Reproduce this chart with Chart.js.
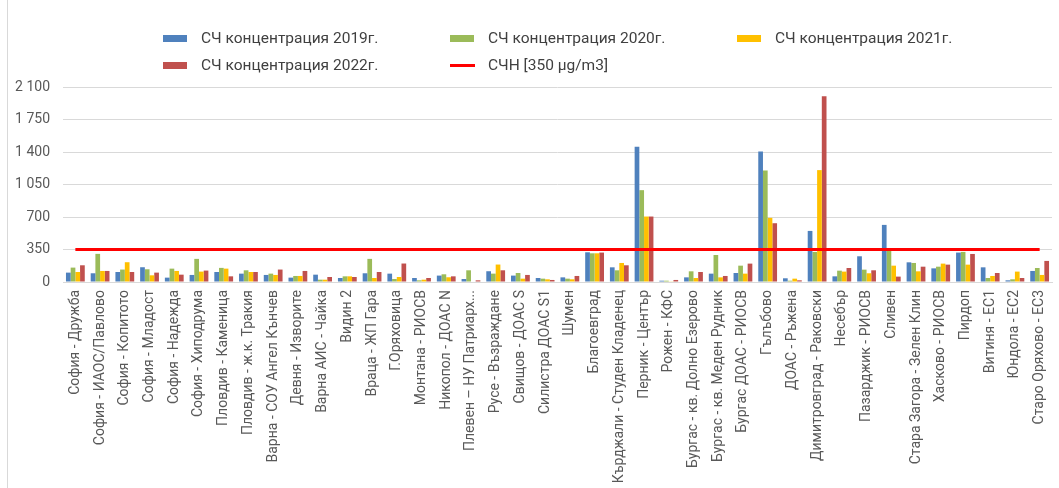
<!DOCTYPE html>
<html>
<head>
<meta charset="utf-8">
<script src="https://cdn.jsdelivr.net/npm/chart.js@4"></script>
<style>
  html, body { margin:0; padding:0; background:#fff; }
  #wrap { position:relative; width:1059px; height:488px; overflow:hidden; }
  #frame { position:absolute; left:7px; top:0; width:1px; height:488px; background:#d9d9d9; }
  canvas { position:absolute; left:0; top:0; }
  .lg { position:absolute; font-family:Roboto, "Open Sans", sans-serif; font-size:15.5px; color:#404040; white-space:nowrap; line-height:20px; }
  .sw { position:absolute; }
</style>
</head>
<body>
<div id="wrap">
  <canvas id="c" width="1059" height="488"></canvas>
  <div id="frame"></div>
  <div id="legend"></div>
</div>
<script>
const categories = [
  "София - Дружба", "София - ИАОС/Павлово", "София - Копитото", "София - Младост", "София - Надежда",
  "София - Хиподрума", "Пловдив - Каменица", "Пловдив - ж.к. Тракия", "Варна - СОУ Ангел Кънчев", "Девня - Изворите",
  "Варна АИС - Чайка", "Видин 2", "Враца - ЖП Гара", "Г.Оряховица", "Монтана - РИОСВ",
  "Никопол - ДОАС N", "Плевен – НУ Патриарх...", "Русе - Възраждане", "Свищов - ДОАС S", "Силистра ДОАС S1",
  "Шумен", "Благоевград", "Кърджали - Студен Кладенец", "Перник - Център", "Рожен - КФС",
  "Бургас - кв. Долно Езерово", "Бургас - кв. Меден Рудник", "Бургас ДОАС - РИОСВ", "Гълъбово", "ДОАС - Ръжена",
  "Димитровград - Раковски", "Несебър", "Пазарджик - РИОСВ", "Сливен", "Стара Загора - Зелен Клин",
  "Хасково - РИОСВ", "Пирдоп", "Витиня - ЕС1", "Юндола - ЕС2", "Старо Оряхово - ЕС3"
];
const conc2019 = [101, 94, 108, 159, 47, 76, 108, 90, 76, 47, 79, 43, 94, 90, 43, 69, 32, 116, 69, 43, 50, 320, 158, 1457, 14, 50, 90, 97, 1406, 40, 550, 61, 277, 615, 212, 147, 317, 158, 18, 119];
const conc2020 = [155, 303, 134, 137, 144, 249, 152, 126, 90, 65, 25, 61, 249, 32, 18, 83, 126, 90, 97, 36, 36, 309, 126, 989, 14, 115, 291, 176, 1201, 14, 324, 122, 133, 338, 205, 165, 324, 43, 29, 151];
const conc2021 = [108, 119, 213, 72, 119, 112, 144, 108, 76, 65, 25, 61, 43, 54, 25, 51, 0, 188, 36, 29, 29, 309, 205, 705, 7, 43, 50, 90, 691, 36, 1205, 112, 94, 176, 115, 198, 187, 65, 112, 76];
const conc2022 = [180, 119, 108, 101, 79, 123, 61, 108, 134, 119, 54, 54, 108, 199, 43, 61, 18, 126, 76, 22, 65, 317, 180, 705, 22, 108, 65, 198, 633, 18, 2000, 151, 126, 58, 165, 187, 302, 97, 43, 227];
const limitLine = [350, 350, 350, 350, 350, 350, 350, 350, 350, 350, 350, 350, 350, 350, 350, 350, 350, 350, 350, 350,
                   350, 350, 350, 350, 350, 350, 350, 350, 350, 350, 350, 350, 350, 350, 350, 350, 350, 350, 350, 350];
const yTicks = [0, 350, 700, 1050, 1400, 1750, 2100];
const seriesNames = ["СЧ концентрация 2019г.", "СЧ концентрация 2020г.", "СЧ концентрация 2021г.", "СЧ концентрация 2022г.", "СЧН [350 µg/m3]"];
const colors = ["#4F81BD", "#9BBB59", "#FFC000", "#C0504D", "#FF0000"];

const fmt = v => v >= 1000 ? Math.floor(v/1000) + " " + String(v % 1000).padStart(3, "0") : String(v);

const barDs = (i, data) => ({
  type: "bar", label: seriesNames[i], data, backgroundColor: colors[i], borderWidth: 0,
  order: 1, categoryPercentage: 0.76, barPercentage: 1.0
});

const font = { family: "Roboto, 'Open Sans', sans-serif", size: 14 };

const chart = new Chart(document.getElementById("c"), {
  type: "bar",
  data: {
    labels: categories,
    datasets: [
      barDs(0, conc2019), barDs(1, conc2020), barDs(2, conc2021), barDs(3, conc2022),
      { type: "line", label: seriesNames[4], data: limitLine, borderColor: colors[4], borderWidth: 3,
        pointRadius: 0, fill: false, order: 0 }
    ]
  },
  options: {
    responsive: false, animation: false,
    layout: { padding: { left: 8, right: 7, top: 87, bottom: 0 } },
    plugins: { legend: { display: false }, tooltip: { enabled: false } },
    scales: {
      x: {
        grid: { display: false, drawTicks: false },
        border: { display: true, color: "#d9d9d9", width: 1 },
        ticks: { autoSkip: false, minRotation: 90, maxRotation: 90, padding: 8, color: "#595959", font },
        afterFit(s) { s.height = 206; s.paddingLeft = 0; s.paddingRight = 0; }
      },
      y: {
        min: 0, max: 2100,
        afterBuildTicks(s) { s.ticks = yTicks.map(v => ({ value: v })); },
        grid: { color: "#d9d9d9", lineWidth: 1, drawTicks: false },
        border: { display: false },
        ticks: { padding: 13, color: "#595959", font, callback: v => fmt(v) },
        afterFit(s) { s.width = 55; s.paddingTop = 0; s.paddingBottom = 0; }
      }
    }
  }
});

// HTML legend built from the chart's datasets
const legendPos = [[163, 28], [450, 28], [737, 28], [163, 55], [450, 55]];
const lg = document.getElementById("legend");
chart.data.datasets.forEach((ds, i) => {
  const [x, y] = legendPos[i];
  const sw = document.createElement("div");
  sw.className = "sw";
  if (ds.type === "line") {
    sw.style.cssText = `left:${x}px;top:${y + 9}px;width:25px;height:3px;background:${ds.borderColor};`;
  } else {
    sw.style.cssText = `left:${x}px;top:${y + 7}px;width:24px;height:7px;background:${ds.backgroundColor};`;
  }
  lg.appendChild(sw);
  const t = document.createElement("div");
  t.className = "lg";
  t.style.left = (x + 38) + "px";
  t.style.top = y + "px";
  t.textContent = ds.label;
  lg.appendChild(t);
});
</script>
</body>
</html>
